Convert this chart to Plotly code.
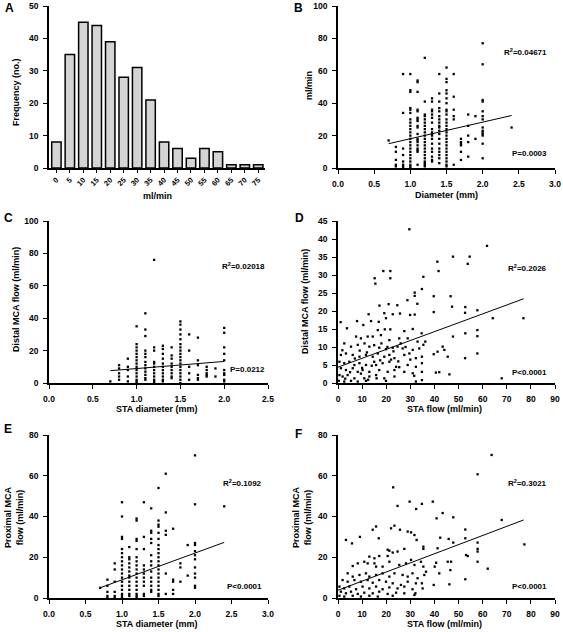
import plotly.graph_objects as go

# ---------------- data ----------------
# Panel A: histogram of STA flow
hist_bins = ["0", "5", "10", "15", "20", "25", "30", "35", "40", "45", "50", "55", "60", "65", "70", "75"]
hist_counts = [8, 35, 45, 44, 39, 28, 31, 21, 8, 6, 3, 6, 5, 1, 1, 1]

# Panel B: STA diameter vs STA flow (grouped by diameter)
b_diam_levels = [0.7, 0.8, 0.9, 1.0, 1.1, 1.2, 1.3, 1.4, 1.5, 1.6, 1.7, 1.8, 1.9, 2.0, 2.4]
b_flow_groups = [
    [17],
    [13, 10, 5, 2, 1],
    [58, 34, 12, 8, 4, 2, 1, 0],
    [58, 48, 47, 37, 36, 34, 30, 28, 26, 24, 22, 20, 18, 16, 14, 12, 10, 8, 6, 4, 2, 1, 0],
    [54, 53, 47, 36, 35, 31, 30, 29, 26, 25, 21, 18, 17, 16, 14, 12, 11, 10, 2],
    [68, 41, 33, 32, 30, 28, 26, 24, 22, 20, 18, 16, 14, 12, 10, 8, 6, 4, 3, 2, 1],
    [43, 41, 36, 35, 33, 31, 28, 24, 22, 21, 20, 18, 15, 12, 10, 7, 5, 4],
    [58, 46, 41, 37, 35, 32, 30, 28, 26, 25, 23, 21, 18, 15, 12, 10, 8, 6, 3],
    [62, 55, 53, 48, 46, 43, 40, 36, 35, 33, 30, 28, 26, 24, 22, 20, 18, 16, 14, 12, 10, 8, 6, 4, 2, 1],
    [58, 44, 36, 32, 30, 2],
    [18, 16, 15, 14, 10, 5],
    [33, 26, 20, 16, 7],
    [32, 18],
    [77, 64, 42, 41, 35, 32, 30, 25, 23, 22, 21, 20, 15, 6],
    [25],
]
b_fit_x = [0.7, 2.4]
b_fit_y = [15.0, 32.4]

# Panel C: STA diameter vs distal MCA flow
c_diam_levels = [0.7, 0.8, 0.9, 1.0, 1.1, 1.2, 1.3, 1.4, 1.5, 1.6, 1.7, 1.8, 1.9, 2.0]
c_flow_groups = [
    [1],
    [11, 9, 6, 4, 2],
    [15, 10, 8, 4, 1],
    [35, 24, 22, 20, 18, 16, 14, 12, 10, 8, 6, 4, 2, 1, 0],
    [43, 33, 29, 20, 18, 16, 13, 11, 9, 7, 5, 3, 2],
    [76, 22, 20, 13, 12, 10, 8, 6, 4, 2, 1, 0],
    [23, 21, 18, 15, 12, 10, 8, 6, 4, 2, 1],
    [22, 17, 15, 12, 10, 8, 6, 4, 3],
    [38, 36, 33, 30, 27, 24, 22, 20, 18, 16, 14, 12, 10, 8, 6, 4, 2, 0],
    [30, 20, 10, 6, 2],
    [28, 14, 11, 5, 3, 2],
    [10, 8, 6, 5, 4],
    [9, 4],
    [34, 31, 22, 18, 14, 8, 6, 5, 2, 1],
]
c_fit_x = [0.7, 2.0]
c_fit_y = [7.6, 13.3]

# Panel D: STA flow vs distal MCA flow
d_sta_flow = [29.6, 61.8, 47.7, 54.6, 53.8, 41.2, 41.7, 18.8, 21.7, 21.7, 15.2, 15.5, 35.4, 34.8, 31.8, 31.8,
              39.7, 46.7, 28.8, 32.9, 17.2, 21.0, 24.6, 47.3, 52.8, 52.7, 57.8, 39.7, 12.7, 19.2, 22.7, 25.7,
              29.9, 31.8, 1.1, 3.7, 7.9, 13.7, 16.9, 19.9, 64.2, 76.9, 10.5, 16.5, 19.4, 21.7, 27.5, 31.0,
              34.7, 47.7, 52.8, 57.8, 57.8, 7.5, 9.5, 12.3, 14.4, 17.8, 21.3, 25.4, 28.9, 33.0, 36.2, 2.6,
              5.4, 8.2, 11.0, 13.0, 17.1, 19.9, 22.7, 24.7, 26.8, 31.0, 33.7, 35.4, 41.3, 43.4, 44.1, 39.7,
              57.8, 1.2, 3.3, 6.1, 8.9, 11.6, 14.4, 16.5, 19.2, 21.3, 23.4, 27.5, 29.6, 32.3, 34.8, 45.5,
              52.7, 0.6, 2.6, 4.7, 6.8, 8.9, 11.6, 15.0, 15.8, 18.5, 21.3, 24.1, 25.4, 28.9, 32.3, 34.8,
              1.2, 3.3, 6.1, 8.2, 10.2, 13.0, 17.1, 20.6, 23.4, 27.5, 31.0, 34.8, 40.6, 42.0, 46.2, 0.6,
              1.9, 4.0, 6.8, 10.9, 13.0, 15.8, 19.2, 23.4, 31.6, 34.8, 67.9, 0.3, 2.6, 5.4, 8.2, 11.6,
              19.9, 32.3, 9.0, 12.0, 15.0, 18.0, 20.5, 23.0, 26.0, 28.0, 30.0, 7.0, 10.0, 14.0, 17.5, 22.0,
              25.0, 3.0, 5.0, 9.5, 12.5, 16.0, 1.8]
d_distal_flow = [42.7, 38.1, 35.1, 35.1, 33.1, 33.7, 31.1, 31.1, 31.1, 29.1, 29.1, 27.6, 29.5, 26.1, 25.1, 24.2,
                 24.1, 24.1, 23.0, 22.0, 21.5, 21.9, 21.6, 21.2, 21.1, 19.5, 20.2, 19.7, 19.1, 19.4, 19.1, 19.3,
                 18.9, 19.0, 16.9, 15.2, 17.2, 17.2, 17.0, 18.0, 18.0, 18.0, 16.1, 14.7, 14.9, 14.9, 14.4, 15.0,
                 13.8, 12.9, 13.8, 14.7, 13.0, 12.9, 12.4, 12.9, 12.9, 13.3, 11.9, 12.4, 12.4, 11.5, 11.5, 11.0,
                 10.1, 10.6, 11.0, 10.1, 9.8, 9.4, 9.8, 10.1, 9.6, 9.2, 9.6, 10.6, 8.7, 10.1, 9.2, 8.0,
                 8.2, 7.8, 8.2, 7.8, 7.3, 7.8, 7.3, 8.2, 7.3, 7.8, 6.9, 7.8, 8.2, 6.9, 7.3, 7.3,
                 6.9, 5.9, 5.5, 5.9, 5.0, 5.5, 5.0, 5.9, 5.0, 5.5, 5.9, 4.5, 4.4, 5.0, 4.5, 5.5,
                 4.1, 3.6, 4.1, 3.1, 3.6, 3.1, 3.6, 3.1, 3.6, 3.1, 2.7, 3.1, 2.9, 3.0, 2.4, 2.2,
                 1.8, 2.2, 1.3, 1.3, 1.8, 2.2, 1.3, 1.8, 2.0, 0.8, 1.3, 0.6, 0.4, 0.6, 0.4, 0.6,
                 0.6, 0.4, 9.0, 8.5, 10.5, 11.0, 10.0, 8.8, 11.0, 10.0, 6.5, 6.8, 4.2, 4.8, 6.3, 6.5,
                 6.0, 1.2, 3.0, 2.6, 0.9, 1.3, 9.1]
d_fit_x = [0.0, 77.0]
d_fit_y = [4.4, 23.4]

# Panel E: STA diameter vs proximal MCA flow
e_diam_levels = [0.7, 0.8, 0.9, 1.0, 1.1, 1.2, 1.3, 1.4, 1.5, 1.6, 1.7, 1.8, 1.9, 2.0, 2.4]
e_flow_groups = [
    [5],
    [9, 6, 3, 1, 0],
    [17, 14, 8, 3, 1, 0],
    [47, 40, 30, 29, 24, 22, 20, 18, 16, 14, 12, 10, 8, 6, 4, 2, 1, 0],
    [25, 20, 19, 17, 15, 13, 11, 10, 8, 6, 4, 2, 1],
    [39, 38, 29, 28, 24, 20, 18, 16, 14, 12, 10, 8, 6, 4, 2, 1, 0],
    [47, 30, 24, 16, 14, 12, 10, 8, 6, 2, 1],
    [44, 33, 32, 29, 27, 21, 18, 16, 13, 10, 8, 6, 4, 3],
    [54, 38, 36, 35, 32, 29, 26, 24, 22, 20, 18, 16, 14, 12, 10, 8, 6, 4, 2, 1],
    [61, 42, 33, 31, 12, 2],
    [34, 9, 8, 4, 2],
    [17, 15, 8],
    [26, 11],
    [70, 46, 27, 26, 23, 21, 19, 15, 12, 10, 6, 5],
    [45],
]
e_fit_x = [0.7, 2.4]
e_fit_y = [5.0, 27.3]

# Panel F: STA flow vs proximal MCA flow
f_sta_flow = [63.7, 57.9, 22.9, 24.7, 29.7, 32.4, 34.8, 39.3, 40.9, 43.4, 47.8, 67.9, 52.8, 15.8, 14.4, 22.0,
              23.4, 25.7, 28.9, 30.3, 31.7, 32.6, 35.4, 35.4, 42.4, 45.9, 52.8, 57.9, 47.8, 3.3, 5.8, 9.1,
              16.9, 77.3, 57.9, 57.9, 57.9, 62.1, 53.1, 53.8, 41.3, 40.7, 40.1, 45.5, 46.9, 42.0, 46.6, 46.2,
              39.7, 52.8, 13.0, 15.1, 17.1, 20.6, 22.7, 24.7, 27.5, 20.6, 21.3, 6.1, 8.2, 10.9, 12.3, 15.1,
              15.8, 18.5, 21.3, 25.4, 28.2, 30.3, 31.7, 34.4, 35.4, 36.5, 35.8, 4.0, 6.1, 8.9, 11.6, 13.0,
              15.8, 18.5, 21.3, 23.4, 26.8, 28.9, 30.9, 33.0, 1.9, 4.0, 6.8, 9.5, 12.3, 14.4, 17.1, 19.9,
              22.7, 26.1, 28.9, 32.3, 34.8, 0.6, 2.6, 4.7, 7.5, 10.2, 13.0, 15.8, 18.5, 21.3, 24.7, 27.5,
              30.9, 35.1, 1.2, 3.3, 5.4, 8.2, 10.9, 14.4, 17.1, 20.6, 24.1, 27.5, 32.1, 0.6, 2.6, 6.1,
              9.5, 13.0, 16.5, 22.7, 31.7]
f_proximal_flow = [70.2, 60.7, 54.3, 45.2, 47.3, 43.7, 46.2, 47.3, 39.1, 41.7, 39.6, 38.3, 33.6, 35.1, 33.5, 34.2,
                   35.5, 33.5, 32.6, 32.2, 30.9, 28.5, 25.2, 24.1, 29.6, 29.0, 29.3, 27.2, 27.2, 28.5, 26.8, 30.0,
                   29.3, 26.3, 24.1, 22.8, 17.8, 14.4, 21.1, 20.6, 24.4, 17.3, 15.4, 17.8, 17.8, 12.1, 13.7, 6.7,
                   6.4, 9.2, 20.3, 19.5, 20.6, 20.6, 22.3, 22.8, 24.1, 23.7, 23.2, 15.7, 17.0, 17.8, 17.0, 17.0,
                   15.4, 15.4, 17.8, 16.2, 17.0, 18.7, 16.2, 17.8, 15.4, 12.9, 11.3, 12.1, 10.5, 11.3, 12.1, 10.5,
                   11.3, 12.1, 10.5, 12.1, 11.3, 10.5, 12.1, 9.7, 8.8, 8.0, 8.8, 8.0, 8.8, 7.5, 8.8, 8.0,
                   7.2, 6.4, 8.0, 7.2, 7.2, 5.6, 4.7, 5.6, 4.3, 5.6, 4.7, 5.6, 4.3, 5.2, 4.7, 5.6,
                   4.3, 4.7, 3.1, 2.3, 3.1, 2.0, 2.6, 2.3, 3.1, 2.0, 2.6, 2.3, 2.3, 1.1, 0.7, 1.1,
                   0.7, 1.1, 0.7, 1.1, 1.5]
f_fit_x = [0.0, 77.0]
f_fit_y = [3.8, 38.3]

# ---------------- helpers ----------------
def flatten(levels, groups):
    xs, ys = [], []
    for lv, g in zip(levels, groups):
        for v in g:
            xs.append(lv)
            ys.append(v)
    return xs, ys

W, H = 563, 632
def px(x):
    return x / W
def py(y):
    return 1 - y / H

FONT = "Arial, Liberation Sans, Helvetica, sans-serif"
tickfont = dict(family=FONT, size=8.5, color="black", weight="bold")

fig = go.Figure()

# Panel A
fig.add_trace(go.Bar(x=hist_bins, y=hist_counts, width=0.7,
                     marker=dict(color="#d4d4d4", line=dict(color="black", width=1.5)),
                     xaxis="x", yaxis="y", showlegend=False))

marker = dict(symbol="square", size=2.3, color="black", line=dict(width=0))

def add_scatter(xs, ys, fx, fy, ax):
    fig.add_trace(go.Scatter(x=xs, y=ys, mode="markers", marker=marker, cliponaxis=False,
                             xaxis="x" + ax, yaxis="y" + ax, showlegend=False))
    fig.add_trace(go.Scatter(x=fx, y=fy, mode="lines", line=dict(color="black", width=1),
                             xaxis="x" + ax, yaxis="y" + ax, showlegend=False))

bx, by = flatten(b_diam_levels, b_flow_groups)
add_scatter(bx, by, b_fit_x, b_fit_y, "2")
cx, cy = flatten(c_diam_levels, c_flow_groups)
add_scatter(cx, cy, c_fit_x, c_fit_y, "3")
add_scatter(d_sta_flow, d_distal_flow, d_fit_x, d_fit_y, "4")
ex, ey = flatten(e_diam_levels, e_flow_groups)
add_scatter(ex, ey, e_fit_x, e_fit_y, "5")
add_scatter(f_sta_flow, f_proximal_flow, f_fit_x, f_fit_y, "6")

def axis(domain, **kw):
    d = dict(domain=domain, showgrid=False, zeroline=False, showline=True, linecolor="black",
             linewidth=1.5, ticks="outside", ticklen=4, tickwidth=1, tickcolor="black",
             tickfont=tickfont, mirror=False, automargin=False, ticklabelstandoff=3)
    d.update(kw)
    return d

left_x = [px(49), px(265)]
left_x2 = [px(49), px(268)]
right_x = [px(338), px(555)]
row1 = [py(168), py(6)]
row2 = [py(383), py(221)]
row3 = [py(598), py(435)]

fig.update_layout(
    width=W, height=H, margin=dict(l=0, r=0, t=0, b=0, autoexpand=False),
    plot_bgcolor="white", paper_bgcolor="white", bargap=0.3,
    xaxis=axis(left_x, anchor="y", type="category", range=[-0.55, 15.5], tickangle=-45,
               ticklen=3, ticklabelstandoff=0,
               tickfont=dict(family=FONT, size=7.5, color="black", weight="bold")),
    yaxis=axis(row1, anchor="x", range=[0, 50], dtick=10),
    xaxis2=axis(right_x, anchor="y2", range=[0, 3], dtick=0.5, tickformat=".1f"),
    yaxis2=axis(row1, anchor="x2", range=[0, 100], dtick=20),
    xaxis3=axis(left_x2, anchor="y3", range=[0, 2.5], dtick=0.5, tickformat=".1f"),
    yaxis3=axis(row2, anchor="x3", range=[0, 100], dtick=20),
    xaxis4=axis(right_x, anchor="y4", range=[0, 90], dtick=10),
    yaxis4=axis(row2, anchor="x4", range=[0, 45], dtick=5),
    xaxis5=axis(left_x2, anchor="y5", range=[0, 3], dtick=0.5, tickformat=".1f"),
    yaxis5=axis(row3, anchor="x5", range=[0, 80], dtick=20),
    xaxis6=axis(right_x, anchor="y6", range=[0, 90], dtick=10),
    yaxis6=axis(row3, anchor="x6", range=[0, 80], dtick=20),
)

ann = []
def text(x, y, t, size=8, anchor="center", angle=0):
    ann.append(dict(x=px(x), y=py(y), xref="paper", yref="paper", text=t, showarrow=False,
                    xanchor=anchor, yanchor="middle", textangle=angle,
                    font=dict(family=FONT, size=size, color="black", weight="bold")))

# panel letters
for lab, x, y in [("A", 3, 8), ("B", 292, 8), ("C", 2, 218), ("D", 293, 218), ("E", 2, 429), ("F", 293, 434)]:
    text(x, y, lab, size=12, anchor="left")

# axis titles
text(16, 92, "Frequency (no.)", size=9, angle=-90)
text(157, 196, "ml/min", size=9)
text(309, 86, "ml/min", size=9, angle=-90)
text(446, 195, "Diameter (mm)", size=9)
text(16, 300, "Distal MCA flow (ml/min)", size=9, angle=-90)
text(157, 409, "STA diameter (mm)", size=9)
text(305, 302, "Distal MCA flow (ml/min)", size=9, angle=-90)
text(444, 409, "STA flow (ml/min)", size=9)
text(14, 517, "Proximal MCA<br>flow (ml/min)", size=9, angle=-90)
text(157, 624, "STA diameter (mm)", size=9)
text(302, 517, "Proximal MCA<br>flow (ml/min)", size=9, angle=-90)
text(444, 624, "STA flow (ml/min)", size=9)

# statistics
stats = [
    (549, 52, "R<sup>2</sup>=0.04671"), (549, 154, "P=0.0003"),
    (267, 266, "R<sup>2</sup>=0.02018"), (267, 369, "P=0.0212"),
    (549, 268, "R<sup>2</sup>=0.2026"), (549, 372, "P<0.0001"),
    (264, 483, "R<sup>2</sup>=0.1092"), (264, 586, "P<0.0001"),
    (549, 483, "R<sup>2</sup>=0.3021"), (549, 586, "P<0.0001"),
]
for x, y, t in stats:
    text(x, y, t, size=8, anchor="right")

fig.update_layout(annotations=ann)
fig.write_html("out.html", config={"displayModeBar": False},
               post_script="document.body.style.margin='0px';document.body.style.overflow='hidden';")
